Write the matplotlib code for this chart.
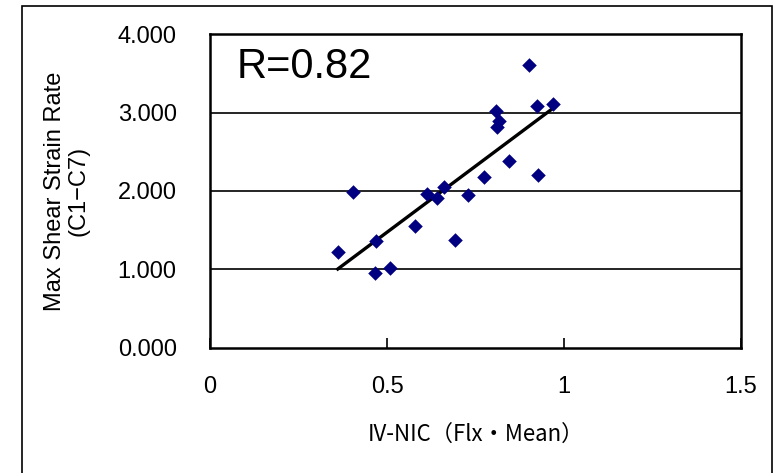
import numpy as np
import matplotlib
matplotlib.use("Agg")
import matplotlib.pyplot as plt
from matplotlib.patches import Rectangle

plt.rcParams['font.family'] = ['Liberation Sans', 'Noto Sans CJK JP', 'DejaVu Sans']

# --- data ---
iv_nic = [0.361, 0.403, 0.468, 0.465, 0.508, 0.579, 0.614, 0.642, 0.661, 0.692,
          0.730, 0.775, 0.808, 0.817, 0.811, 0.845, 0.901, 0.925, 0.927, 0.970]
strain = [1.222, 1.993, 1.363, 0.950, 1.022, 1.554, 1.959, 1.908, 2.057, 1.380,
          1.950, 2.172, 3.015, 2.887, 2.810, 2.385, 3.610, 3.087, 2.202, 3.108]

x_ticks = [0, 0.5, 1, 1.5]
x_tick_labels = ["0", "0.5", "1", "1.5"]
y_ticks = [0, 1, 2, 3, 4]
y_tick_labels = ["0.000", "1.000", "2.000", "3.000", "4.000"]

r_text = "R=0.82"

# linear trend line
coef = np.polyfit(iv_nic, strain, 1)
xl = np.array([min(iv_nic), max(iv_nic)])
yl = np.polyval(coef, xl)

fig = plt.figure(figsize=(7.73, 4.73), dpi=100)
ax = fig.add_axes([0.2717, 0.2643, 0.6869, 0.6638])

# outer chart frame
fig.patches.append(Rectangle((22 / 773, -0.05), 750 / 773, 1 - 6 / 473 + 0.05,
                             transform=fig.transFigure, fill=False,
                             edgecolor="black", linewidth=1.2))

for y in [1, 2, 3]:
    ax.axhline(y, color="black", linewidth=1.2, zorder=1)

ax.plot(xl, yl, color="black", linewidth=2.4, zorder=2)
ax.scatter(iv_nic, strain, marker="D", s=55, color="#000080", zorder=3, linewidths=0)

ax.set_xlim(0, 1.5)
ax.set_ylim(0, 4)
ax.set_xticks(x_ticks)
ax.set_xticklabels(x_tick_labels)
ax.set_yticks(y_ticks)
ax.set_yticklabels(y_tick_labels)
ax.tick_params(axis="x", direction="in", length=7, width=1.2, pad=20, labelsize=17)
ax.tick_params(axis="y", direction="in", length=0, pad=24, labelsize=17)

for s in ax.spines.values():
    s.set_linewidth(1.8)

ax.text(0.05, 0.86, r_text, transform=ax.transAxes, fontsize=30)

ax.set_xlabel("IV-NIC（Flx・Mean）", fontsize=16, labelpad=18,
              family=['Noto Sans CJK JP', 'DejaVu Sans'])
ax.set_ylabel("Max Shear Strain Rate\n(C1−C7)", fontsize=17, labelpad=20,
              linespacing=1.1)

fig.savefig("out.png", dpi=100)
